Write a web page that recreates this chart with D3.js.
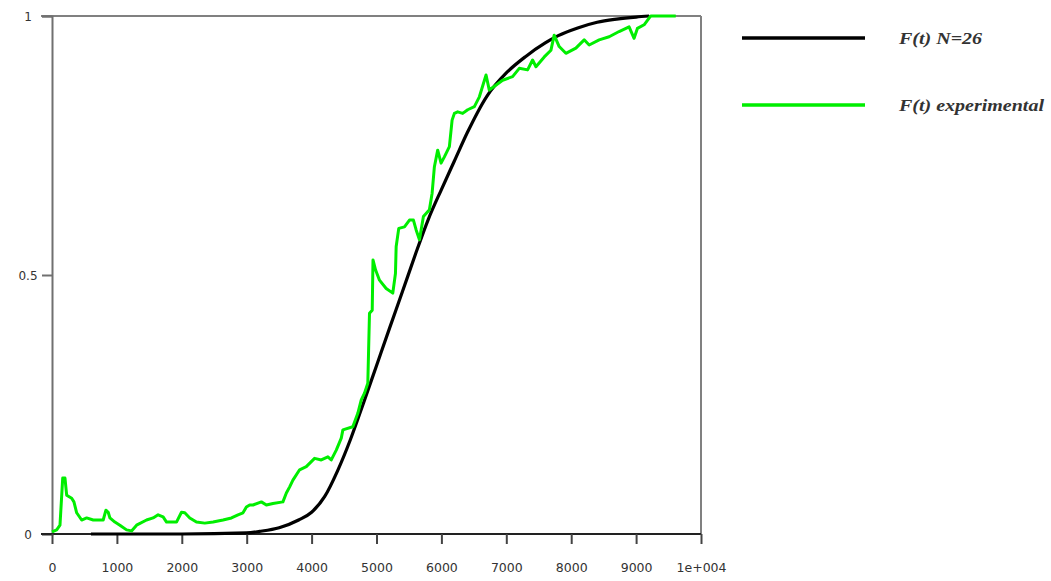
<!DOCTYPE html>
<html>
<head>
<meta charset="utf-8">
<script src="https://cdn.jsdelivr.net/npm/d3@7"></script>
<style>
  html, body { margin: 0; padding: 0; background: #fff; }
  svg { display: block; }
</style>
</head>
<body>
<svg id="chart" width="1051" height="581"></svg>
<script>
// Fitted distribution function F(t), N=26
const modelT = [600, 1000, 2000, 3000, 3200, 3500, 3800, 4000, 4200, 4400, 4600, 4800, 5000, 5200, 5400, 5600, 5800, 6000, 6200, 6400, 6700, 7000, 7300, 7600, 7800, 8100, 8400, 8700, 9000, 9200];
const modelF = [0, 0, 0, 0.002, 0.005, 0.012, 0.027, 0.042, 0.072, 0.122, 0.183, 0.253, 0.325, 0.397, 0.468, 0.54, 0.608, 0.665, 0.72, 0.775, 0.845, 0.89, 0.922, 0.948, 0.962, 0.977, 0.988, 0.994, 0.998, 1.0];

// Experimental distribution function
const expT = [0, 72, 123, 165, 200, 226, 303, 338, 380, 457, 534, 635, 789, 831, 866, 892, 969, 1046, 1149, 1226, 1303, 1457, 1558, 1635, 1712, 1765, 1918, 1995, 2046, 2123, 2226, 2354, 2482, 2635, 2765, 2866, 2943, 2995, 3046, 3097, 3226, 3303, 3405, 3558, 3611, 3662, 3712, 3815, 3918, 4046, 4149, 4251, 4303, 4380, 4457, 4482, 4635, 4712, 4765, 4815, 4866, 4892, 4934, 4946, 4985, 5046, 5149, 5251, 5292, 5303, 5343, 5431, 5508, 5569, 5611, 5662, 5723, 5815, 5857, 5892, 5943, 5995, 6046, 6123, 6165, 6200, 6251, 6328, 6405, 6508, 6585, 6688, 6738, 6943, 7097, 7200, 7328, 7405, 7457, 7585, 7688, 7738, 7815, 7918, 8072, 8200, 8277, 8431, 8585, 8738, 8892, 8969, 9020, 9123, 9200, 9226, 9611];
const expF = [0.004, 0.008, 0.017, 0.108, 0.108, 0.075, 0.069, 0.062, 0.041, 0.027, 0.031, 0.027, 0.027, 0.046, 0.042, 0.031, 0.023, 0.017, 0.008, 0.006, 0.017, 0.027, 0.031, 0.037, 0.033, 0.023, 0.023, 0.042, 0.041, 0.031, 0.023, 0.021, 0.023, 0.027, 0.031, 0.037, 0.041, 0.052, 0.056, 0.056, 0.062, 0.056, 0.059, 0.062, 0.079, 0.091, 0.104, 0.124, 0.130, 0.146, 0.143, 0.149, 0.143, 0.162, 0.185, 0.201, 0.207, 0.233, 0.259, 0.272, 0.291, 0.426, 0.432, 0.529, 0.510, 0.490, 0.474, 0.465, 0.503, 0.555, 0.590, 0.593, 0.606, 0.606, 0.587, 0.568, 0.613, 0.626, 0.658, 0.709, 0.741, 0.716, 0.728, 0.748, 0.799, 0.812, 0.815, 0.812, 0.819, 0.825, 0.844, 0.886, 0.857, 0.876, 0.883, 0.899, 0.896, 0.915, 0.902, 0.921, 0.934, 0.963, 0.941, 0.928, 0.938, 0.954, 0.944, 0.954, 0.960, 0.970, 0.979, 0.957, 0.976, 0.983, 0.996, 1.0, 1.0];

const xTicks = [0, 1000, 2000, 3000, 4000, 5000, 6000, 7000, 8000, 9000, 10000];
const xTickLabels = ["0", "1000", "2000", "3000", "4000", "5000", "6000", "7000", "8000", "9000", "1e+004"];
const yTicks = [0, 0.5, 1];
const yTickLabels = ["0", "0.5", "1"];

const seriesNames = ["F(t) N=26", "F(t) experimental"];
const seriesColors = ["#000000", "#00ee00"];

const svg = d3.select("#chart");
const plotLeft = 52, plotRight = 701, plotTop = 16, plotBottom = 534;

const x = d3.scaleLinear().domain([0, 10000]).range([plotLeft, plotRight]);
const y = d3.scaleLinear().domain([0, 1]).range([plotBottom, plotTop]);

const tickFont = "'DejaVu Sans', sans-serif";

// Frame (top and right edges)
svg.append("line").attr("x1", plotLeft - 11).attr("x2", plotRight).attr("y1", plotTop).attr("y2", plotTop)
  .attr("stroke", "#808080").attr("stroke-width", 2);
svg.append("line").attr("x1", plotRight).attr("x2", plotRight).attr("y1", plotTop).attr("y2", plotBottom)
  .attr("stroke", "#808080").attr("stroke-width", 2);

// Y axis
const yAxis = d3.axisLeft(y).tickValues(yTicks).tickSize(10)
  .tickFormat((d, i) => yTickLabels[i]);
const gy = svg.append("g").attr("transform", `translate(${plotLeft},0)`).call(yAxis);
gy.select(".domain").attr("stroke", "#707070").attr("stroke-width", 2);
gy.selectAll(".tick line").attr("stroke", "#707070").attr("stroke-width", 2);
gy.selectAll(".tick text").attr("x", -24).attr("text-anchor", "middle")
  .attr("font-family", tickFont).attr("font-size", 12).attr("fill", "#333").attr("dy", "0.35em");

// X axis
const xAxis = d3.axisBottom(x).tickValues(xTicks).tickSize(10)
  .tickFormat((d, i) => xTickLabels[i]);
const gx = svg.append("g").attr("transform", `translate(0,${plotBottom})`).call(xAxis);
gx.select(".domain").attr("d", `M${plotLeft - 11},0H${plotRight}`).attr("stroke", "#222").attr("stroke-width", 2);
gx.selectAll(".tick line").attr("stroke", "#444").attr("stroke-width", 2);
gx.selectAll(".tick text").attr("y", 38).attr("dy", 0)
  .attr("font-family", tickFont).attr("font-size", 12.5).attr("fill", "#333");

// Curves
const modelData = modelT.map((t, i) => ({ t, f: modelF[i] }));
const expData = expT.map((t, i) => ({ t, f: expF[i] }));

const smooth = d3.line().x(d => x(d.t)).y(d => y(d.f)).curve(d3.curveMonotoneX);
const jagged = d3.line().x(d => x(d.t)).y(d => y(d.f));

svg.append("path").datum(modelData).attr("d", smooth)
  .attr("fill", "none").attr("stroke", seriesColors[0]).attr("stroke-width", 3.2)
  .attr("stroke-linejoin", "round");
svg.append("path").datum(expData).attr("d", jagged)
  .attr("fill", "none").attr("stroke", seriesColors[1]).attr("stroke-width", 3)
  .attr("stroke-linejoin", "round");

// Legend
const legend = svg.append("g");
const legendRows = [38, 105];
seriesNames.forEach((name, i) => {
  legend.append("line").attr("x1", 742).attr("x2", 865)
    .attr("y1", legendRows[i]).attr("y2", legendRows[i])
    .attr("stroke", seriesColors[i]).attr("stroke-width", 3.5);
  legend.append("text").attr("x", 0).attr("y", 0)
    .attr("transform", `translate(899,${legendRows[i] + 6}) scale(1.25,1)`)
    .attr("font-family", "'Liberation Serif', serif").attr("font-style", "italic")
    .attr("font-weight", "bold").attr("font-size", 16).attr("fill", "#333")
    .text(name);
});
</script>
</body>
</html>
